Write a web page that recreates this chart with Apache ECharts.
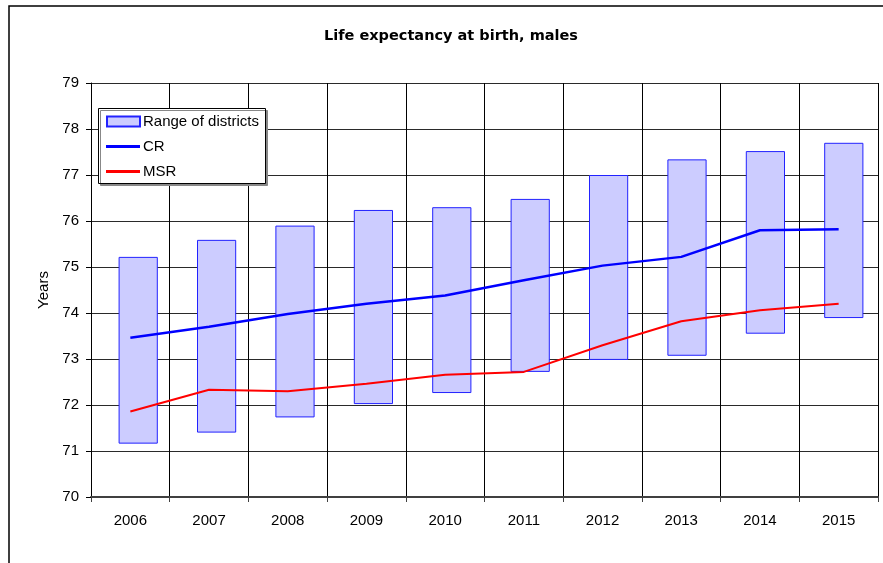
<!DOCTYPE html>
<html>
<head>
<meta charset="utf-8">
<script src="https://cdn.jsdelivr.net/npm/echarts@6/dist/echarts.min.js"></script>
<style>
  html, body { margin: 0; padding: 0; background: #fff; }
  #chart { width: 883px; height: 563px; }
</style>
</head>
<body>
<div id="chart"></div>
<script>
var years = ['2006', '2007', '2008', '2009', '2010', '2011', '2012', '2013', '2014', '2015'];
var rangeLow = [71.16, 71.40, 71.73, 72.02, 72.26, 72.72, 72.98, 73.07, 73.55, 73.89];
var rangeHigh = [75.22, 75.59, 75.90, 76.24, 76.30, 76.48, 77.00, 77.34, 77.52, 77.70];
var crValues = [73.46, 73.70, 73.98, 74.20, 74.38, 74.71, 75.03, 75.22, 75.80, 75.82];
var msrValues = [71.86, 72.33, 72.30, 72.46, 72.66, 72.72, 73.30, 73.82, 74.06, 74.20];

// the boxes are drawn as a stack: invisible base up to the low value, then the span
var rangeSpan = rangeHigh.map(function (h, i) {
  return +(h - rangeLow[i]).toFixed(2);
});

var font = 'Liberation Sans, Arial, sans-serif';

var chart = echarts.init(document.getElementById('chart'));

var option = {
  animation: false,
  backgroundColor: '#fff',
  textStyle: { fontFamily: font, color: '#000' },
  title: {
    text: 'Life expectancy at birth, males',
    left: 446,
    textAlign: 'center',
    top: 24,
    textStyle: { fontFamily: 'DejaVu Sans', fontSize: 14.5, fontWeight: 'bold', color: '#000' }
  },
  legend: [
    {
      left: 106,
      top: 114,
      padding: 0,
      itemWidth: 33,
      itemHeight: 10,
      textStyle: { fontFamily: font, fontSize: 15, color: '#000', padding: [0, 0, 0, -2] },
      data: [{ name: 'Range of districts', icon: 'rect' }]
    },
    {
      orient: 'vertical',
      left: 106,
      top: 139,
      padding: 0,
      itemWidth: 34,
      itemHeight: 3,
      itemGap: 10,
      textStyle: { fontFamily: font, fontSize: 15, color: '#000', padding: [0, 0, 0, -2] },
      data: [{ name: 'CR', icon: 'rect' }, { name: 'MSR', icon: 'rect' }]
    }
  ],
  grid: [
    { left: 91, right: 5, top: 83, bottom: 66 },
    { left: 99, right: -3, top: 83, bottom: 66 }
  ],
  xAxis: [
    {
      type: 'category',
      gridIndex: 0,
      data: years,
      axisLine: { lineStyle: { color: '#404040', width: 2 } },
      axisTick: { show: true, length: 5, lineStyle: { color: '#404040' } },
      axisLabel: { fontFamily: font, fontSize: 15, color: '#000', margin: 16 },
      splitLine: { show: true, lineStyle: { color: '#000', width: 1 } }
    },
    {
      type: 'category',
      gridIndex: 1,
      data: years,
      show: false
    }
  ],
  yAxis: [
    {
      type: 'value',
      gridIndex: 0,
      min: 70,
      max: 79,
      interval: 1,
      name: 'Years',
      nameLocation: 'middle',
      nameGap: 36,
      nameTextStyle: { fontFamily: font, fontSize: 15, color: '#000' },
      axisLine: { show: true, lineStyle: { color: '#000', width: 1 } },
      axisTick: { show: true, length: 5, lineStyle: { color: '#000' } },
      axisLabel: { fontFamily: font, fontSize: 15, color: '#000', margin: 12 },
      splitLine: { show: true, lineStyle: { color: '#2a2a2a', width: 1 } }
    },
    {
      type: 'value',
      gridIndex: 1,
      min: 70,
      max: 79,
      interval: 1,
      show: false,
      splitLine: { show: false }
    }
  ],
  series: [
    {
      name: 'base',
      type: 'bar',
      stack: 'range',
      xAxisIndex: 1,
      yAxisIndex: 1,
      barWidth: '50%',
      silent: true,
      itemStyle: { color: 'transparent' },
      data: rangeLow
    },
    {
      name: 'Range of districts',
      type: 'bar',
      stack: 'range',
      xAxisIndex: 1,
      yAxisIndex: 1,
      barWidth: '50%',
      itemStyle: { color: '#ccccff', borderColor: '#2222ff', borderWidth: 1 },
      data: rangeSpan
    },
    {
      name: 'CR',
      type: 'line',
      xAxisIndex: 0,
      yAxisIndex: 0,
      symbol: 'none',
      color: '#0000ff',
      lineStyle: { color: '#0000ff', width: 2.5 },
      data: crValues
    },
    {
      name: 'MSR',
      type: 'line',
      xAxisIndex: 0,
      yAxisIndex: 0,
      symbol: 'none',
      color: '#ff0000',
      lineStyle: { color: '#ff0000', width: 2 },
      data: msrValues
    }
  ],
  graphic: [
    {
      type: 'polyline',
      silent: true,
      shape: { points: [[9, 563], [9, 6], [883, 6]] },
      style: { stroke: '#000', lineWidth: 1.5, fill: null }
    },
    {
      // legend frame
      type: 'rect',
      silent: true,
      z: 3,
      shape: { x: 98.5, y: 108.5, width: 167, height: 75 },
      style: {
        fill: '#fff', stroke: '#000', lineWidth: 1,
        shadowColor: '#888', shadowOffsetX: 2, shadowOffsetY: 2, shadowBlur: 0
      }
    }
  ]
};

chart.setOption(option);
</script>
</body>
</html>
